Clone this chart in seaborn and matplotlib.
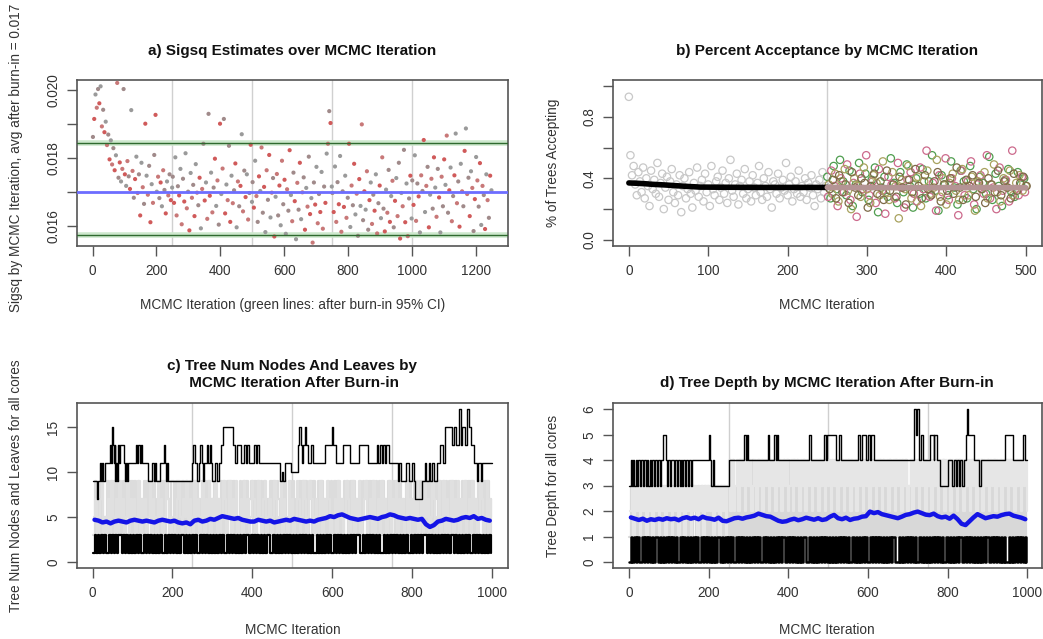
import matplotlib
matplotlib.use("Agg")
import matplotlib.pyplot as plt
import seaborn as sns
import numpy as np

# ---------------- data ----------------
# a) sigsq draws, one value every 4 iterations, units of 1e-5, five blocks of 250 iterations
sigsq_block1 = [1862, 1915, 1987, 1948, 2003, 1961, 2011, 1893, 1942, 1876, 1907, 1838, 1869, 1796, 1852, 1781,
                1829, 1764, 1808, 2021, 1742, 1787, 1731, 1768, 2003, 1752, 1718, 1791, 1746, 1709, 1941, 1762,
                1683, 1738, 1804, 1697, 1752, 1631, 1786, 1714, 1665, 1901, 1748, 1692, 1777, 1611, 1723, 1668,
                1809, 1927, 1701, 1745, 1682, 1728, 1658, 1764, 1706, 1637, 1731, 1690, 1752, 1676, 1713]
sigsq_block2 = [1745, 1668, 1802, 1631, 1717, 1690, 1768, 1605, 1739, 1672, 1814, 1652, 1701, 1587, 1756, 1683,
                1721, 1629, 1782, 1698, 1661, 1742, 1593, 1709, 1842, 1675, 1728, 1621, 1930, 1689, 1757, 1640,
                1713, 1798, 1659, 1734, 1604, 1901, 1694, 1769, 1915, 1637, 1722, 1676, 1836, 1612, 1748, 1667,
                1705, 1784, 1596, 1731, 1658, 1718, 1870, 1643, 1763, 1685, 1752, 1619, 1697, 1839, 1671]
sigsq_block3 = [1729, 1654, 1792, 1688, 1612, 1746, 1703, 1831, 1639, 1715, 1582, 1764, 1677, 1809, 1625, 1698,
                1741, 1569, 1686, 1753, 1631, 1719, 1602, 1792, 1664, 1736, 1577, 1708, 1645, 1823, 1691, 1614,
                1757, 1673, 1561, 1727, 1648, 1786, 1620, 1699, 1743, 1589, 1712, 1657, 1804, 1635, 1682, 1551,
                1728, 1663, 1774, 1608, 1694, 1641, 1759, 1592, 1716, 1668, 1813, 1842, 1938, 1903, 1716]
sigsq_block4 = [1697, 1641, 1775, 1612, 1729, 1664, 1806, 1583, 1702, 1656, 1748, 1624, 1683, 1842, 1597, 1719,
                1661, 1783, 1634, 1695, 1571, 1738, 1659, 1899, 1617, 1702, 1648, 1761, 1589, 1676, 1728, 1606,
                1692, 1645, 1752, 1578, 1667, 1719, 1623, 1802, 1651, 1584, 1707, 1639, 1765, 1612, 1688, 1733,
                1596, 1674, 1741, 1629, 1786, 1563, 1697, 1658, 1824, 1611, 1725, 1570, 1681, 1748, 1622]
sigsq_block5 = [1734, 1662, 1808, 1615, 1725, 1687, 1581, 1749, 1703, 1853, 1641, 1718, 1774, 1596, 1692, 1739,
                1651, 1802, 1713, 1627, 1768, 1684, 1581, 1745, 1658, 1796, 1721, 1866, 1639, 1705, 1772, 1614,
                1688, 1749, 1872, 1667, 1731, 1598, 1783, 1702, 1658, 1821, 1887, 1694, 1742, 1629, 1761, 1712,
                1585, 1679, 1803, 1734, 1657, 1785, 1603, 1718, 1691, 1591, 1752, 1676, 1624, 1748, 1705]
sigsq_avg = 0.01700
sigsq_ci = [0.01574, 0.01845]

# b) acceptance proportion (hundredths); burn-in every 2 iterations, then 4 cores every 4 iterations
accept_burnin = [93, 55, 42, 48, 36, 29, 44, 38, 31, 47, 27, 40, 35, 22, 45, 33, 39, 30, 50, 28, 37, 43, 20, 34,
                 41, 26, 38, 46, 31, 24, 36, 29, 42, 18, 35, 40, 27, 33, 44, 30, 21, 37, 32, 47, 28, 35, 39, 25,
                 43, 31, 36, 22, 48, 33, 29, 38, 41, 26, 34, 45, 30, 37, 24, 40, 52, 32, 28, 36, 43, 23, 35, 39,
                 30, 46, 27, 33, 38, 25, 42, 34, 29, 37, 48, 31, 26, 40, 35, 28, 44, 33, 21, 38, 36, 30, 43, 27,
                 34, 39, 32, 50, 29, 36, 41, 25, 33, 38, 30, 45, 28, 35, 31, 40, 26, 37, 34, 42, 29, 22, 36, 33,
                 39, 27, 44, 31, 35]
accept_core1 = [41, 27, 48, 33, 52, 38, 29, 45, 22, 36, 50, 31, 43, 26, 39, 47, 18, 34, 41, 28, 53, 37, 24, 44,
                31, 49, 35, 21, 40, 30, 46, 27, 38, 55, 32, 19, 42, 36, 29, 51, 34, 23, 45, 38, 27, 48, 33, 20,
                41, 37, 30, 54, 26, 43, 35, 22, 39, 46, 31, 28, 44, 36, 40]
accept_core2 = [28, 45, 35, 22, 40, 31, 49, 26, 37, 15, 43, 33, 55, 29, 38, 24, 46, 32, 17, 41, 36, 27, 50, 34,
                21, 39, 44, 30, 25, 47, 33, 58, 28, 37, 19, 42, 31, 53, 26, 40, 35, 16, 45, 29, 38, 51, 23, 36,
                42, 30, 55, 27, 34, 20, 47, 32, 39, 25, 58, 33, 29, 41, 31]
accept_core3 = [36, 30, 43, 25, 38, 46, 32, 20, 40, 35, 28, 47, 33, 24, 42, 37, 29, 51, 31, 26, 44, 35, 14, 39,
                33, 48, 27, 36, 41, 22, 38, 45, 30, 34, 52, 28, 40, 23, 37, 43, 32, 26, 46, 35, 29, 41, 19, 38,
                33, 44, 27, 36, 49, 31, 25, 40, 34, 45, 29, 37, 42, 32, 35]
accept_core4 = [33, 39, 27, 42, 31, 36, 24, 44, 34, 29, 40, 37, 21, 35, 43, 30, 38, 26, 45, 32, 36, 28, 41, 34,
                23, 39, 31, 46, 35, 27, 42, 33, 29, 38, 44, 25, 36, 32, 40, 30, 47, 34, 26, 39, 35, 42, 28, 37,
                33, 24, 40, 36, 31, 45, 29, 38, 34, 27, 43, 32, 37, 41, 35]
accept_mean_burnin_x = [0, 10, 20, 30, 45, 60, 75, 90, 120, 160, 200, 250]
accept_mean_burnin_y = [0.370, 0.368, 0.365, 0.361, 0.357, 0.352, 0.347, 0.343, 0.342, 0.341, 0.341, 0.341]
accept_mean_post_x = [250, 300, 350, 400, 450, 500]
accept_mean_post_y = [0.341, 0.340, 0.339, 0.340, 0.340, 0.339]

# c) tree num nodes: max (start iteration, value) runs, min / other trees as digit strings (4 iterations each)
nodes_max_runs = [(1, 9), (10, 7), (14, 9), (18, 11), (21, 9), (24, 11), (27, 9), (30, 11), (44, 13), (47, 11),
                  (49, 15), (51, 13), (53, 11), (55, 13), (57, 9), (60, 11), (62, 9), (64, 13), (67, 11), (70, 13),
                  (78, 11), (81, 9), (84, 11), (87, 9), (90, 11), (108, 13), (112, 11), (115, 13), (118, 11),
                  (121, 13), (124, 11), (140, 9), (150, 11), (153, 9), (157, 11), (160, 9), (170, 11), (178, 13),
                  (181, 11), (184, 9), (187, 11), (190, 9), (250, 11), (252, 13), (256, 11), (262, 9), (266, 11),
                  (270, 13), (273, 11), (276, 9), (280, 11), (286, 13), (289, 11), (293, 13), (296, 11), (300, 9),
                  (306, 11), (312, 9), (318, 11), (322, 13), (327, 15), (352, 13), (356, 11), (362, 13), (372, 11),
                  (380, 13), (384, 11), (388, 13), (392, 11), (405, 13), (409, 11), (412, 13), (416, 11), (470, 9),
                  (474, 10), (478, 9), (482, 11), (496, 10), (515, 13), (518, 15), (521, 13), (524, 11), (527, 13),
                  (531, 15), (534, 13), (540, 11), (548, 13), (553, 11), (582, 13), (600, 15), (603, 13), (610, 11),
                  (628, 13), (645, 11), (668, 13), (690, 11), (712, 13), (716, 11), (720, 13), (724, 11), (728, 13),
                  (732, 11), (736, 13), (742, 11), (764, 9), (768, 11), (772, 9), (784, 11), (792, 9), (800, 11),
                  (804, 9), (808, 7), (826, 9), (832, 11), (836, 9), (842, 11), (846, 9), (851, 11), (856, 9),
                  (862, 11), (870, 13), (878, 11), (882, 15), (900, 13), (906, 15), (910, 13), (918, 17), (922, 13),
                  (926, 15), (934, 13), (938, 17), (942, 15), (948, 13), (955, 11), (962, 9), (966, 11), (972, 9),
                  (976, 11)]
nodes_min = ("1313131311313131331313131" "3131311313131313131131313" "1313133131313131131313131"
             "3131313113131313131313313" "1313131313311313131313131" "3131313131313113131313131"
             "1313131313131313311313131" "3131311313131313131313113" "1313131331313131313131313"
             "3131313131311313131313131")
nodes_tree_a = ("3937393539793939373935939" "3939373939593937393939739" "9393739393593939739393937"
                "3937393939793935393939379" "3939593937393939739393593" "9373939393793935939373939"
                "3939373959393937393979393" "9393939373935939393739397" "3937393935939379393939593"
                "9393739393939373959393937")
nodes_tree_b = ("5735793537395373957359375" "7359375735937539573597353" "3579537593753957359375937"
                "5937359735937593573957359" "7359537935735973593753957" "3597359735975373593759735"
                "5739573597359375935793573" "9357395735937593757359375" "7593573957359735935937359"
                "3759375935739573597359375")
nodes_avg = [4.7, 4.6, 4.4, 4.5, 4.3, 4.5, 4.6, 4.5, 4.4, 4.6, 4.7, 4.6, 4.5, 4.6, 4.5, 4.4, 4.6, 4.7, 4.6, 4.5,
             4.6, 4.4, 4.3, 4.4, 4.2, 4.6, 4.7, 4.5, 4.6, 4.8, 4.7, 4.9, 5.1, 5.0, 4.9, 4.8, 4.9, 4.7, 4.6, 4.5,
             4.5, 4.7, 4.6, 4.5, 4.6, 4.4, 4.5, 4.6, 4.7, 4.6, 4.8, 4.7, 4.6, 4.5, 4.6, 4.5, 4.7, 4.8, 4.9, 5.1,
             5.0, 5.2, 5.3, 5.1, 4.9, 4.8, 4.7, 4.8, 4.9, 5.0, 4.9, 4.8, 5.0, 5.1, 5.3, 5.2, 5.0, 4.9, 4.8, 4.9,
             4.8, 4.7, 4.8, 4.2, 3.9, 4.1, 4.5, 4.6, 4.8, 4.7, 4.6, 4.7, 4.9, 5.0, 4.9, 5.1, 4.8, 4.9, 4.7, 4.6]

# d) tree depth
depth_max_runs = [(1, 3), (5, 4), (8, 3), (11, 4), (14, 3), (17, 4), (20, 3), (24, 4), (28, 3), (31, 4), (35, 3),
                  (38, 4), (42, 3), (45, 4), (49, 3), (52, 4), (56, 3), (59, 4), (63, 3), (66, 4), (70, 3), (73, 4),
                  (77, 3), (80, 4), (86, 5), (92, 4), (96, 3), (99, 4), (103, 3), (106, 4), (112, 3), (115, 4),
                  (120, 3), (123, 4), (127, 3), (130, 4), (134, 3), (137, 4), (141, 3), (144, 4), (149, 3), (152, 4),
                  (156, 3), (159, 4), (200, 5), (203, 4), (206, 3), (210, 4), (214, 3), (250, 4), (290, 5), (294, 4),
                  (297, 5), (300, 4), (348, 5), (352, 4), (364, 5), (368, 4), (372, 5), (375, 4), (452, 5), (458, 4),
                  (490, 5), (495, 4), (498, 5), (520, 4), (528, 5), (532, 4), (575, 5), (580, 4), (586, 5), (596, 4),
                  (600, 5), (604, 4), (608, 5), (614, 4), (715, 6), (720, 5), (724, 6), (728, 4), (733, 5), (737, 4),
                  (755, 5), (765, 4), (767, 5), (773, 4), (780, 3), (800, 4), (812, 3), (816, 4), (820, 3), (824, 4),
                  (828, 3), (832, 4), (836, 3), (840, 4), (845, 5), (848, 6), (851, 5), (865, 4), (880, 3), (884, 4),
                  (945, 5), (965, 4), (990, 5), (994, 4)]
depth_min = ("0101010010101010110101010" "1010100101010101010010101" "0101011010101010010101010"
             "1010101001010101010101101" "0101010101100101010101010" "1010101010101001010101010"
             "0101010101010101100101010" "1010100101010101010101001" "0101010110101010101010101"
             "1010101010100101010101010")
depth_tree_a = ("1313131313123131313131313" "1313131313131313213131313" "1313131313131414131414131"
                "4141314141314131414131414" "1314141314131413141413141" "3141413141314141314131414"
                "1314131414131413141314141" "3141314141314131414131413" "1413141413141314131414131"
                "4131413141314141314131414")
depth_tree_b = ("2313231323132313231323132" "3132313231323132313231323" "2313231323134242342434243"
                "4234243424342434243424342" "3424342434243424342434243" "4243424342434243424342434"
                "2434243424342434243424342" "3424342434243424342434243" "4243424342434243424342434"
                "2434243424342434243424342")
depth_avg = [1.75, 1.70, 1.65, 1.70, 1.62, 1.68, 1.65, 1.70, 1.66, 1.72, 1.68, 1.70, 1.64, 1.72, 1.76, 1.70, 1.74,
             1.68, 1.78, 1.72, 1.70, 1.66, 1.74, 1.62, 1.60, 1.66, 1.72, 1.74, 1.70, 1.75, 1.78, 1.82, 1.90, 1.85,
             1.80, 1.78, 1.70, 1.62, 1.58, 1.60, 1.66, 1.70, 1.64, 1.68, 1.74, 1.70, 1.66, 1.72, 1.65, 1.68, 1.78,
             1.85, 1.72, 1.68, 1.74, 1.65, 1.70, 1.72, 1.78, 1.80, 1.98, 1.92, 1.96, 1.88, 1.84, 1.80, 1.76, 1.72,
             1.78, 1.85, 1.88, 1.94, 1.98, 1.92, 1.86, 1.84, 1.90, 1.80, 1.75, 1.78, 1.70, 1.82, 1.68, 1.50, 1.45,
             1.60, 1.75, 1.88, 1.80, 1.72, 1.76, 1.80, 1.78, 1.84, 1.88, 1.90, 1.82, 1.78, 1.74, 1.68]

# ---------------- styling ----------------
sns.set_theme(style="white")
plt.rcParams["font.family"] = ["Liberation Sans", "DejaVu Sans"]
TXT = "#333333"
BOX = "#555555"
TICK_FS = 9.8
LAB_FS = 9.8
TITLE_FS = 11


def style_axes(ax, xlim, ylim, xticks, yticks, yticklabels=None):
    ax.set_xlim(*xlim)
    ax.set_ylim(*ylim)
    ax.set_xticks(xticks)
    ax.set_yticks(yticks)
    if yticklabels is not None:
        ax.set_yticklabels(yticklabels)
    ax.tick_params(bottom=True, left=True, direction="out", length=7, width=1, color=BOX,
                   labelsize=TICK_FS, labelcolor=TXT, pad=6)
    ax.tick_params(axis="y", labelrotation=90, pad=5)
    for lab in ax.get_yticklabels():
        lab.set_va("center")
    for sp in ax.spines.values():
        sp.set_color(BOX)
        sp.set_linewidth(1.2)
    ax.grid(False)


def steps_from_runs(runs, end):
    xs = [r[0] for r in runs] + [end]
    ys = [r[1] for r in runs] + [runs[-1][1]]
    return xs, ys


def steps_from_string(s, offset=0):
    ys = np.array([int(ch) for ch in s])
    xs = offset + 1 + 4 * np.arange(len(ys))
    return xs, ys


fig = plt.figure(figsize=(10.43, 6.39), dpi=100)
ax_a = fig.add_axes([0.0738, 0.615, 0.413, 0.260])
ax_b = fig.add_axes([0.5877, 0.615, 0.411, 0.260])
ax_c = fig.add_axes([0.0738, 0.111, 0.413, 0.258])
ax_d = fig.add_axes([0.5877, 0.111, 0.411, 0.258])

# ---------------- a) sigsq ----------------
for xv in [250, 500, 750, 1000]:
    ax_a.axvline(xv, color="#d0d0d0", lw=1)
point_cols = ["#a08a8a", "#d05a5a", "#9a9a9a", "#c87878"]
for k, block in enumerate([sigsq_block1, sigsq_block2, sigsq_block3, sigsq_block4, sigsq_block5]):
    xs = 250 * k + 1 + 4 * np.arange(len(block))
    ys = np.array(block) * 1e-5
    cols = [point_cols[i % 4] for i in range(len(block))]
    ax_a.scatter(xs, ys, s=9, c=cols, linewidths=0, zorder=3)
for yv in sigsq_ci:
    ax_a.axhline(yv, color="#cde8cd", lw=4, zorder=2)
    ax_a.axhline(yv, color="#2f6a2f", lw=1, zorder=4)
ax_a.axhline(sigsq_avg, color="#6d6dff", lw=2, zorder=4)
style_axes(ax_a, (-49, 1300), (0.01541, 0.0203), np.arange(0, 1201, 200),
           [0.016, 0.017, 0.018, 0.019, 0.020], ["0.016", "", "0.018", "", "0.020"])
ax_a.set_title("a) Sigsq Estimates over MCMC Iteration", fontsize=TITLE_FS, fontweight="bold", pad=18, color="#111")
ax_a.set_xlabel("MCMC Iteration (green lines: after burn-in 95% CI)", fontsize=LAB_FS, color=TXT)
ax_a.set_ylabel("Sigsq by MCMC Iteration, avg after burn-in = 0.017", fontsize=LAB_FS, color=TXT)

# ---------------- b) acceptance ----------------
ax_b.axvline(250, color="#cfcfcf", lw=1)
sns.scatterplot(x=2 * np.arange(len(accept_burnin)), y=np.array(accept_burnin) / 100, ax=ax_b,
                color="#c8c8c8", facecolors="none", edgecolor="#c8c8c8", linewidth=0.9, s=28, zorder=2)
core_cols = ["#4f9e4f", "#cc6a8c", "#a8a25e", "#7d6a48"]
for k, core in enumerate([accept_core1, accept_core2, accept_core3, accept_core4]):
    xs = 250 + k + 4 * np.arange(len(core))
    sns.scatterplot(x=xs, y=np.array(core) / 100, ax=ax_b, color=core_cols[k], facecolors="none",
                    edgecolor=core_cols[k], linewidth=0.9, s=28, zorder=3)
ax_b.plot(accept_mean_burnin_x, accept_mean_burnin_y, color="black", lw=4, zorder=5)
ax_b.plot(accept_mean_post_x, accept_mean_post_y, color="#b49494", lw=4, zorder=5)
style_axes(ax_b, (-20, 520), (-0.04, 1.04), np.arange(0, 501, 100),
           [0.0, 0.2, 0.4, 0.6, 0.8, 1.0], ["0.0", "", "0.4", "", "0.8", ""])
ax_b.set_title("b) Percent Acceptance by MCMC Iteration", fontsize=TITLE_FS, fontweight="bold", pad=18,
               color="#111")
ax_b.set_xlabel("MCMC Iteration", fontsize=LAB_FS, color=TXT)
ax_b.set_ylabel("% of Trees Accepting", fontsize=LAB_FS, color=TXT)

# ---------------- c) num nodes ----------------
for xv in [250, 500, 750]:
    ax_c.axvline(xv, color="#cfcfcf", lw=1, zorder=1)
xs, ys = steps_from_string(nodes_tree_a, 0)
ax_c.step(xs, ys, where="post", color="#dcdcdc", lw=1.6, zorder=2)
xs, ys = steps_from_string(nodes_tree_b, 2)
ax_c.step(xs, ys, where="post", color="#e0e0e0", lw=1.6, zorder=2)
xs, ys = steps_from_string(nodes_min, 0)
ax_c.step(xs, ys, where="post", color="black", lw=1.6, zorder=3)
xs, ys = steps_from_runs(nodes_max_runs, 1000)
ax_c.step(xs, ys, where="post", color="black", lw=1.0, zorder=3)
sns.lineplot(x=5 + 10 * np.arange(len(nodes_avg)), y=nodes_avg, ax=ax_c, color="#1414e6", lw=3.2, zorder=4)
style_axes(ax_c, (-39, 1040), (-0.68, 17.68), np.arange(0, 1001, 200), [0, 5, 10, 15])
ax_c.set_title("c) Tree Num Nodes And Leaves by\n MCMC Iteration After Burn-in", fontsize=TITLE_FS,
               fontweight="bold", pad=12, color="#111", linespacing=1.25)
ax_c.set_xlabel("MCMC Iteration", fontsize=LAB_FS, color=TXT)
ax_c.set_ylabel("Tree Num Nodes and Leaves for all cores", fontsize=LAB_FS, color=TXT)

# ---------------- d) depth ----------------
for xv in [250, 500, 750]:
    ax_d.axvline(xv, color="#cfcfcf", lw=1, zorder=1)
xs, ys = steps_from_string(depth_tree_a, 0)
ax_d.step(xs, ys, where="post", color="#d8d8d8", lw=1.6, zorder=2)
xs, ys = steps_from_string(depth_tree_b, 2)
ax_d.step(xs, ys, where="post", color="#e6e6e6", lw=1.6, zorder=2)
xs, ys = steps_from_string(depth_min, 0)
ax_d.step(xs, ys, where="post", color="black", lw=1.8, zorder=3)
xs, ys = steps_from_runs(depth_max_runs, 1000)
ax_d.step(xs, ys, where="post", color="black", lw=1.0, zorder=3)
sns.lineplot(x=5 + 10 * np.arange(len(depth_avg)), y=depth_avg, ax=ax_d, color="#1414e6", lw=3.2, zorder=4)
style_axes(ax_d, (-40, 1036), (-0.24, 6.24), np.arange(0, 1001, 200), [0, 1, 2, 3, 4, 5, 6])
ax_d.set_title("d) Tree Depth by MCMC Iteration After Burn-in", fontsize=TITLE_FS, fontweight="bold", pad=12,
               color="#111")
ax_d.set_xlabel("MCMC Iteration", fontsize=LAB_FS, color=TXT)
ax_d.set_ylabel("Tree Depth for all cores", fontsize=LAB_FS, color=TXT)

# label positions like R's base graphics
for ax in [ax_a, ax_b]:
    ax.xaxis.set_label_coords(0.5, -0.315)
for ax in [ax_c, ax_d]:
    ax.xaxis.set_label_coords(0.5, -0.335)
ax_a.yaxis.set_label_coords(-0.125, 0.53)
ax_c.yaxis.set_label_coords(-0.125, 0.5)
ax_b.yaxis.set_label_coords(-0.123, 0.5)
ax_d.yaxis.set_label_coords(-0.123, 0.5)

fig.savefig("out.png", dpi=100)
